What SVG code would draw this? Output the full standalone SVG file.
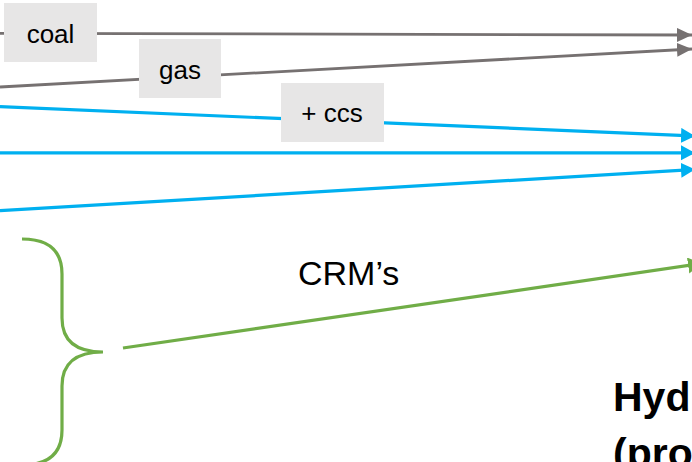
<svg xmlns="http://www.w3.org/2000/svg" width="692" height="462" viewBox="0 0 692 462">
  <style>
    .gray { stroke: #767171; stroke-width: 2.8; fill: none; }
    .blue { stroke: #00B0F0; stroke-width: 3.2; fill: none; }
    .green { stroke: #70AD47; stroke-width: 3.2; fill: none; }
    .tag rect { fill: #E7E6E6; }
    .tag text { font-family: "Liberation Sans", Arial, sans-serif; font-size: 26px; fill: #000; text-anchor: middle; }
    .lbl { font-family: "Liberation Sans", Arial, sans-serif; font-size: 34px; fill: #000; }
    .title { font-family: "Liberation Sans", Arial, sans-serif; font-size: 41px; font-weight: bold; fill: #000; }
  </style>
  <defs>
    <marker id="ah-gray" markerUnits="userSpaceOnUse" markerWidth="16" markerHeight="15" refX="15" refY="7" orient="auto">
      <path d="M0,0 L15,7 L0,14 Z" fill="#767171"/>
    </marker>
    <marker id="ah-blue" markerUnits="userSpaceOnUse" markerWidth="16" markerHeight="16" refX="14" refY="7.5" orient="auto">
      <path d="M0,0 L14,7.5 L0,15 Z" fill="#00B0F0"/>
    </marker>
    <marker id="ah-green" markerUnits="userSpaceOnUse" markerWidth="16" markerHeight="17" refX="14" refY="8" orient="auto">
      <path d="M0,0 L14,8 L0,16 Z" fill="#70AD47"/>
    </marker>
  </defs>

  <rect width="692" height="462" fill="#FFFFFF"/>

  <!-- connectors -->
  <g id="connectors">
    <line class="gray" x1="0" y1="33.3" x2="692" y2="35" marker-end="url(#ah-gray)"/>
    <line class="gray" x1="0" y1="87" x2="692" y2="49" marker-end="url(#ah-gray)"/>
    <line class="blue" x1="0" y1="106.7" x2="695" y2="136" marker-end="url(#ah-blue)"/>
    <line class="blue" x1="0" y1="152.8" x2="695" y2="152.8" marker-end="url(#ah-blue)"/>
    <line class="blue" x1="0" y1="210.7" x2="695" y2="169.5" marker-end="url(#ah-blue)"/>
    <line class="green" x1="123" y1="348" x2="702" y2="263.5" marker-end="url(#ah-green)"/>
  </g>

  <!-- labels on the lines -->
  <g id="coal" class="tag">
    <rect x="4" y="3" width="93" height="59"/>
    <text x="50.5" y="43">coal</text>
  </g>
  <g id="gas" class="tag">
    <rect x="139" y="39" width="82" height="59"/>
    <text x="180" y="79">gas</text>
  </g>
  <g id="ccs" class="tag">
    <rect x="281" y="83" width="103" height="59"/>
    <text x="332" y="122">+ ccs</text>
  </g>

  <!-- curly brace grouping -->
  <g id="brace">
    <path class="green" d="M22,239 Q62,239 62,274 L62,318 Q62,352 103,352 Q62,352 62,386 L62,430 Q62,465 22,465"/>
  </g>

  <g id="crm">
    <text class="lbl" x="298" y="285">CRM’s</text>
  </g>

  <g id="hydrogen">
    <text class="title" x="613" y="410.5">Hyd</text>
    <text class="title" x="613" y="467">(pro</text>
  </g>
</svg>
